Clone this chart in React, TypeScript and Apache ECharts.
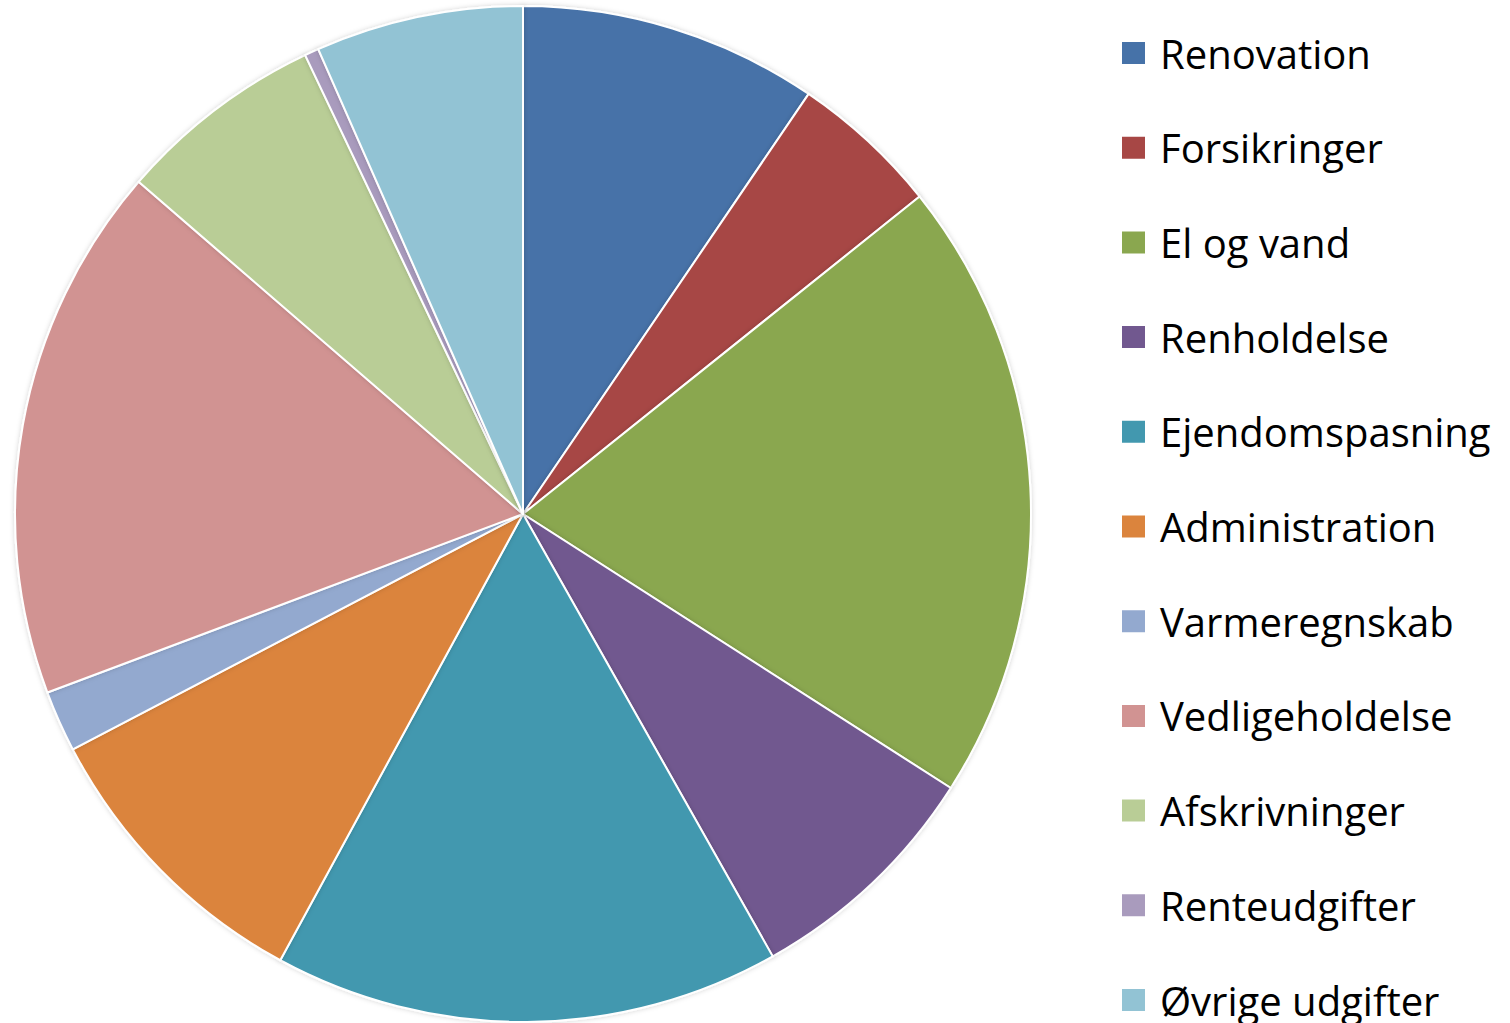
import React, { useEffect, useRef } from "react";
import * as echarts from "echarts";

const categories = [
  "Renovation",
  "Forsikringer",
  "El og vand",
  "Renholdelse",
  "Ejendomspasning",
  "Administration",
  "Varmeregnskab",
  "Vedligeholdelse",
  "Afskrivninger",
  "Renteudgifter",
  "Øvrige udgifter",
];

const shares = [9.5, 4.75, 19.8, 7.75, 16.1, 9.4, 1.95, 17.05, 6.6, 0.45, 6.6];

const colors = [
  "#4672A8",
  "#A74745",
  "#8AA74F",
  "#71588F",
  "#4298AF",
  "#DB843D",
  "#93A9CF",
  "#D19392",
  "#B9CD96",
  "#A99BBD",
  "#92C3D4",
];

export default function App() {
  const ref = useRef<HTMLDivElement>(null);
  useEffect(() => {
    if (!ref.current) return;
    const chart = echarts.init(ref.current, undefined, { renderer: "svg" });
    chart.setOption({
      animation: false,
      color: colors,
      legend: {
        orient: "vertical",
        left: 1120,
        top: 33,
        padding: 0,
        itemWidth: 25,
        itemHeight: 24,
        itemGap: 54.7,
        icon: "rect",
        selectedMode: false,
        textStyle: {
          fontFamily: "Open Sans",
          fontSize: 40,
          lineHeight: 40,
          color: "#000",
          padding: [0, 0, 0, 9],
        },
        data: categories,
      },
      series: [
        {
          type: "pie",
          center: [523, 514],
          radius: [0, 508],
          startAngle: 90,
          clockwise: true,
          label: { show: false },
          labelLine: { show: false },
          emphasis: { disabled: true },
          itemStyle: {
            borderColor: "#fff",
            borderWidth: 2,
            shadowBlur: 5,
            shadowColor: "rgba(0,0,0,0.18)",
          },
          data: categories.map((name, i) => ({ name, value: shares[i] })),
        },
      ],
    });
    return () => chart.dispose();
  }, []);
  return (
    <div
      style={{
        position: "absolute",
        left: 0,
        top: 0,
        width: 1510,
        height: 1023,
        overflow: "hidden",
      }}
    >
      <div ref={ref} style={{ width: 1510, height: 1120 }} />
    </div>
  );
}
